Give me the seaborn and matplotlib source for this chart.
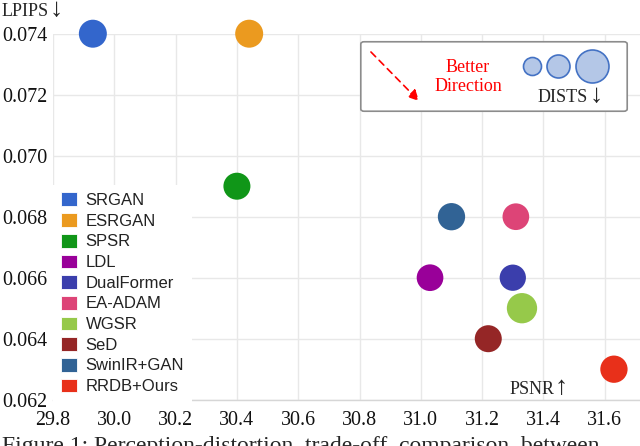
import matplotlib
matplotlib.use('Agg')
import matplotlib.pyplot as plt
import seaborn as sns
import pandas as pd
from matplotlib.patches import Patch, FancyBboxPatch, FancyArrowPatch

# values
methods = ["SRGAN", "ESRGAN", "SPSR", "LDL", "DualFormer", "EA-ADAM",
           "WGSR", "SeD", "SwinIR+GAN", "RRDB+Ours"]
psnr = [29.93, 30.44, 30.40, 31.03, 31.30, 31.31, 31.33, 31.22, 31.10, 31.63]
lpips = [0.074, 0.074, 0.069, 0.066, 0.066, 0.068, 0.065, 0.064, 0.068, 0.063]
dists = [0.0406, 0.0406, 0.0378, 0.0369, 0.0358, 0.0369, 0.0476, 0.0378, 0.0386, 0.0386]
colors = ["#3366CC", "#EB9A1F", "#109618", "#990099", "#3B3EAC",
          "#DD4477", "#96C94A", "#952626", "#316395", "#E8301A"]
x_ticks = [29.8, 30.0, 30.2, 30.4, 30.6, 30.8, 31.0, 31.2, 31.4, 31.6]
y_ticks = [0.062, 0.064, 0.066, 0.068, 0.070, 0.072, 0.074]

df = pd.DataFrame({"method": methods, "PSNR": psnr, "LPIPS": lpips, "DISTS": dists})
palette = dict(zip(methods, colors))

sns.set_style("white")
serif = ["Liberation Serif", "DejaVu Serif"]
sans = ["Liberation Sans", "DejaVu Sans"]

W, H = 640, 446
fig = plt.figure(figsize=(6.4, 4.46), dpi=100)
ax = fig.add_axes([53 / W, 1 - 399.7 / H, 1 - 53 / W, (399.7 - 33.7) / H])

sns.scatterplot(data=df, x="PSNR", y="LPIPS", hue="method", palette=palette,
                size="DISTS", sizes=(358, 476), legend=False, linewidth=0,
                ax=ax, clip_on=False, zorder=3)

ax.set_xlim(29.8, 31.715)
ax.set_ylim(0.062, 0.074)
ax.set_xticks(x_ticks)
ax.set_yticks(y_ticks)
ax.set_xticklabels([f"{v:.1f}" for v in x_ticks], family=serif, fontsize=14.4)
ax.set_yticklabels([f"{v:.3f}" for v in y_ticks], family=serif, fontsize=14.4)
ax.tick_params(axis="x", length=0, pad=8, colors="#111111")
ax.tick_params(axis="y", length=0, pad=4.2, colors="#111111")
ax.set_xlabel("")
ax.set_ylabel("")
ax.grid(True, color="#e8e8e8", lw=1)
ax.set_axisbelow(True)
for s in ["top", "right", "left"]:
    ax.spines[s].set_visible(False)
ax.spines["bottom"].set_color("#d6d6d6")
ax.spines["bottom"].set_linewidth(1)

# method legend
handles = [Patch(facecolor=c, edgecolor="white", lw=0.6) for c in colors]
leg = ax.legend(handles, methods, loc="upper left",
                bbox_to_anchor=(53 / W, 1 - 185 / H), bbox_transform=fig.transFigure,
                prop={"family": sans, "size": 12}, frameon=True, facecolor="white",
                edgecolor="none", framealpha=1, fancybox=False, borderpad=0.45,
                handlelength=1.0, handleheight=0.9, handletextpad=0.5,
                labelspacing=0.3, borderaxespad=0)
for t in leg.get_texts():
    t.set_color("#222222")

# axis labels with long arrows
fig.text(2 / W, 1 - 11 / H, "LPIPS", family=serif, fontsize=13, va="center", ha="left")
fig.text(50 / W, 1 - 10 / H, "↓", family=serif, fontsize=19, va="center", ha="left")
fig.text(510 / W, 1 - 390 / H, "PSNR", family=serif, fontsize=13, va="center", ha="left")
fig.text(555 / W, 1 - 388 / H, "↑", family=serif, fontsize=19, va="center", ha="left")

# annotation box
box = FancyBboxPatch((364 / W, 1 - 109 / H), 260 / W, 65 / H,
                     boxstyle="round,pad=0.005", transform=fig.transFigure,
                     facecolor="white", edgecolor="#8c8c8c", lw=1.2, zorder=5)
fig.patches.append(box)
fig.text(468 / W, 1 - 77 / H, "Better\nDirection", family=serif, fontsize=13,
         color="red", ha="center", va="center", linespacing=1.15, zorder=6)
fig.text(563 / W, 1 - 97 / H, "DISTS", family=serif, fontsize=13,
         ha="center", va="center", zorder=6)
fig.text(590 / W, 1 - 96 / H, "↓", family=serif, fontsize=19,
         ha="left", va="center", zorder=6)
arrow = FancyArrowPatch((369 / W, 1 - 50 / H), (421 / W, 1 - 103 / H),
                        transform=fig.transFigure, arrowstyle="-|>", color="red",
                        lw=1.2, linestyle=(0, (4, 3)), mutation_scale=16, zorder=7)
fig.add_artist(arrow)
for cx, d in [(531.7, 18), (557.7, 23), (591.7, 33)]:
    fig.add_artist(plt.Line2D([cx / W], [1 - 65.7 / H], marker="o", markersize=d * 0.72,
                              markerfacecolor="#b4c7e7", markeredgecolor="#4472c4",
                              markeredgewidth=1.2, transform=fig.transFigure, zorder=6))

# caption, cut off by the bottom edge as in the reference
fig.text(2 / W, 1 - 436 / H, "Figure 1: Perception-distortion  trade-off  comparison  between",
         family=serif, fontsize=17, va="top", ha="left")

fig.savefig("out.png", dpi=100)
